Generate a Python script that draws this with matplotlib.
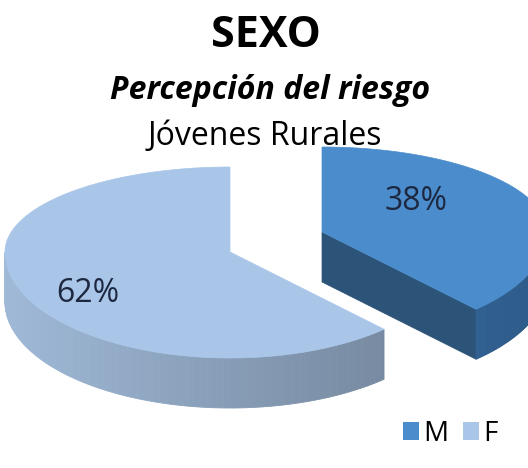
import numpy as np
import matplotlib
matplotlib.use('Agg')
import matplotlib.pyplot as plt
from matplotlib.patches import Polygon, Patch
from matplotlib.colors import to_rgb

# data
labels = ['M', 'F']
shares = [38, 62]
title = 'SEXO'
subtitle = 'Percepción del riesgo'
group = 'Jóvenes Rurales'

# style
top_colors = ['#4b8dcc', '#a9c6e9']
side_colors = ['#4181c2', '#9fb9d7']
wall_colors = ['#2c5378', '#7f97b4']
explode = [(92, -20), (0, 0)]
label_r = [0.45, 0.68]
label_dy = [-16, 15]

plt.rcParams['font.family'] = ['Open Sans', 'DejaVu Sans']

cx, cy = 230, 252
rx, ry_back, ry_front, depth = 225, 85, 106, 50


def rim(x0, y0, th):
    th = np.asarray(th, dtype=float)
    ry = np.where(np.cos(th) > 0, ry_back, ry_front)
    return x0 + rx * np.sin(th), y0 - ry * np.cos(th)


fig = plt.figure(figsize=(5.28, 4.68), dpi=100)
ax = fig.add_axes([0, 0, 1, 1])
ax.set_xlim(0, 528)
ax.set_ylim(468, 0)
ax.axis('off')

bounds = np.concatenate([[0], np.cumsum(shares)]) / sum(shares) * 2 * np.pi

for i in range(len(shares)):
    s, e = bounds[i], bounds[i + 1]
    x0, y0 = cx + explode[i][0], cy + explode[i][1]

    # radial walls facing the viewer
    for a, n in [(e, e + np.pi / 2), (s, s - np.pi / 2)]:
        if np.cos(n) < -1e-6:
            px, py = rim(x0, y0, a)
            ax.add_patch(Polygon([(x0, y0), (px, py), (px, py + depth), (x0, y0 + depth)],
                                 closed=True, fc=wall_colors[i], ec=wall_colors[i], lw=0.5))

    # outer curved side (front half only)
    lo, hi = max(s, np.pi / 2), min(e, 3 * np.pi / 2)
    if hi > lo:
        th = np.linspace(lo, hi, 120)
        xs, ys = rim(x0, y0, th)
        base = np.array(to_rgb(side_colors[i]))
        for k in range(len(th) - 1):
            f = 1 - 0.15 * (1 + np.sin(th[k]))
            c = np.clip(base * f, 0, 1)
            ax.add_patch(Polygon([(xs[k], ys[k]), (xs[k + 1], ys[k + 1]),
                                  (xs[k + 1], ys[k + 1] + depth), (xs[k], ys[k] + depth)],
                                 closed=True, fc=c, ec=c, lw=0.6))

    # top face
    th = np.linspace(s, e, 300)
    xs, ys = rim(x0, y0, th)
    ax.add_patch(Polygon(np.column_stack([np.r_[x0, xs], np.r_[y0, ys]]),
                         closed=True, fc=top_colors[i], ec=top_colors[i], lw=0.5))

    # percentage label
    m = (s + e) / 2
    lx, ly = rim(x0, y0, m)
    lx = x0 + label_r[i] * (lx - x0)
    ly = y0 + label_r[i] * (ly - y0) + label_dy[i]
    pct = round(100 * shares[i] / sum(shares))
    ax.text(lx, ly, f'{pct}%', ha='center', va='center', fontsize=23, color='#1d2840')

ax.text(266, 47, title, ha='center', va='baseline', fontsize=31, fontweight='bold', color='black')
ax.text(270, 99, subtitle, ha='center', va='baseline', fontsize=23, fontweight='bold',
        fontstyle='italic', color='black')
ax.text(265, 145, group, ha='center', va='baseline', fontsize=23, color='black')

handles = [Patch(fc=top_colors[i], ec='none') for i in range(len(labels))]
fig.legend(handles, labels, loc='lower right', bbox_to_anchor=(0.99, -0.01), ncol=2,
           frameon=False, fontsize=20, handlelength=0.6, handleheight=0.6,
           handletextpad=0.15, columnspacing=0.5)

fig.savefig('out.png', dpi=100)
